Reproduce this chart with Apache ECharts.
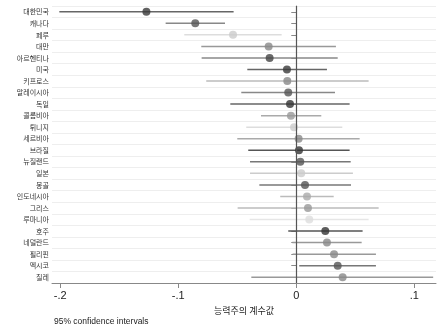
<!DOCTYPE html>
<html><head><meta charset="utf-8">
<script src="https://cdn.jsdelivr.net/npm/echarts@6/dist/echarts.min.js"></script>
<style>html,body{margin:0;padding:0;background:#fff}#c{width:437px;height:331px}</style>
</head><body><div id="c"></div>
<script>
const countries = ['대한민국','캐나다','페루','대만','아르헨티나','미국','키프로스','말레이시아','독일','콜롬비아','튀니지','세르비아','브라질','뉴질랜드','일본','몽골','인도네시아','그리스','루마니아','호주','네덜란드','필리핀','멕시코','칠레'];
const estimates = [-0.127,-0.0856,-0.0536,-0.0234,-0.0226,-0.0079,-0.0076,-0.0068,-0.0053,-0.0045,-0.0019,0.0020,0.0023,0.0034,0.0042,0.0074,0.0091,0.0099,0.0110,0.0246,0.0260,0.0320,0.0351,0.0393];
const lower = [-0.2008,-0.1107,-0.0949,-0.0805,-0.0802,-0.0415,-0.0763,-0.0466,-0.0559,-0.0299,-0.0424,-0.0500,-0.0407,-0.0392,-0.0392,-0.0313,-0.0136,-0.0497,-0.0395,-0.0068,-0.0034,-0.0031,0.0025,-0.0381];
const upper = [-0.0531,-0.0604,-0.0124,0.0336,0.0351,0.0260,0.0613,0.0328,0.0452,0.0212,0.0390,0.0537,0.0452,0.0461,0.0480,0.0464,0.0317,0.0698,0.0613,0.0562,0.0554,0.0675,0.0675,0.1160];
const xTicks = [-0.2,-0.1,0,0.1];
const xTickLabels = ['-.2','-.1','0','.1'];
const dotColors = ['#3a3a3a','#555','#ccc','#888','#444','#3a3a3a','#888','#555','#333','#999','#ccc','#888','#333','#555','#ccc','#555','#aaa','#999','#ddd','#333','#888','#888','#555','#888'];
const lineColors = ['#666','#888','#ddd','#999','#888','#666','#bbb','#888','#666','#aaa','#ddd','#aaa','#555','#777','#ccc','#777','#bbb','#bbb','#e6e6e6','#555','#999','#999','#777','#999'];

const chart = echarts.init(document.getElementById('c'), null, {renderer:'canvas'});
const ciData = countries.map((c,i)=>[lower[i], upper[i], i]);
const dotData = countries.map((c,i)=>({value:[estimates[i], c], itemStyle:{color:dotColors[i]}}));
chart.setOption({
  animation:false,
  grid:{left:52, right:1, top:6, bottom:48},
  xAxis:{
    type:'value', min:-0.207, max:0.1184,
    axisLine:{show:true, onZero:false, lineStyle:{color:'#888', width:1}},
    axisTick:{show:true, length:5, lineStyle:{color:'#888'}, customValues:xTicks},
    axisLabel:{customValues:xTicks, formatter:(v)=>{const k=xTicks.findIndex(t=>Math.abs(t-v)<1e-9);return k>=0?xTickLabels[k]:'';}, color:'#222', fontSize:11, fontFamily:'Liberation Sans', margin:7},
    splitLine:{show:false},
    name:'능력주의 계수값', nameLocation:'middle', nameGap:20,
    nameTextStyle:{color:'#222', fontSize:9, fontFamily:'Noto Sans CJK KR'}
  },
  yAxis:{
    type:'category', data:countries, inverse:true, boundaryGap:true,
    axisLine:{show:true, lineStyle:{color:'#888', width:1}},
    axisTick:{show:true, alignWithLabel:true, length:5, lineStyle:{color:'#888'}},
    axisLabel:{color:'#333', fontSize:7, fontFamily:'Noto Sans CJK KR', margin:3, interval:0},
    splitLine:{show:true, interval:0, lineStyle:{color:'#eeeeee', width:1}}
  },
  graphic:[{type:'text', left:54, top:317, style:{text:'95% confidence intervals', fill:'#222', font:'8.5px "Liberation Sans"'}}],
  series:[
    {type:'custom', renderItem:(params, api)=>{
        const i = api.value(2);
        const p1 = api.coord([api.value(0), countries[i]]);
        const p2 = api.coord([api.value(1), countries[i]]);
        return {type:'line', shape:{x1:p1[0], y1:p1[1], x2:p2[0], y2:p2[1]}, style:{stroke:lineColors[i], lineWidth:1.5}};
      }, encode:{x:[0,1]}, data:ciData, z:2, clip:true},
    {type:'scatter', data:dotData, symbolSize:8, z:4,
      markLine:{silent:true, symbol:'none', label:{show:false}, lineStyle:{color:'#555', width:1.2, type:'solid'}, data:[{xAxis:0}]}}
  ]
});
</script></body></html>
